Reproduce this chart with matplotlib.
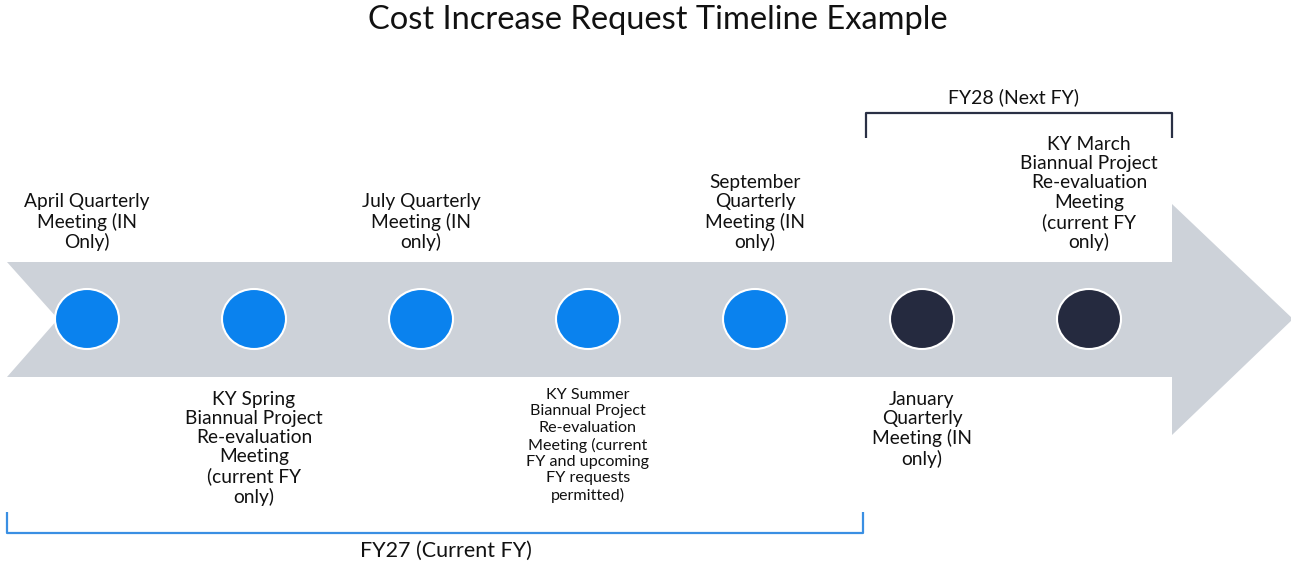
import matplotlib
matplotlib.use("Agg")
import matplotlib.pyplot as plt
from matplotlib.patches import Polygon, Ellipse

plt.rcParams['font.family'] = ['Lato', 'DejaVu Sans']

# ---- data ----
title = "Cost Increase Request Timeline Example"
events = [
    "April Quarterly\nMeeting (IN\nOnly)",
    "KY Spring\nBiannual Project\nRe-evaluation\nMeeting\n(current FY\nonly)",
    "July Quarterly\nMeeting (IN\nonly)",
    "KY Summer\nBiannual Project\nRe-evaluation\nMeeting (current\nFY and upcoming\nFY requests\npermitted)",
    "September\nQuarterly\nMeeting (IN\nonly)",
    "January\nQuarterly\nMeeting (IN\nonly)",
    "KY March\nBiannual Project\nRe-evaluation\nMeeting\n(current FY\nonly)",
]
label_side = ["above", "below", "above", "below", "above", "below", "above"]
fiscal_year = ["FY27", "FY27", "FY27", "FY27", "FY27", "FY28", "FY28"]
fy_labels = {"FY27": "FY27 (Current FY)", "FY28": "FY28 (Next FY)"}

# ---- style ----
W, H = 1291, 565
fig = plt.figure(figsize=(W / 100, H / 100), dpi=100)
ax = fig.add_axes([0, 0, 1, 1])
ax.set_xlim(0, W)
ax.set_ylim(H, 0)
ax.axis('off')

gray = '#CDD2D9'
blue = '#0A82EE'
navy = '#252A3F'
fy27_col = '#3A8FE3'
fy28_col = '#2A3045'
txt = '#111111'

x0, step, yc = 87, 167, 319
xs = [x0 + step * i for i in range(len(events))]

# arrow shape
body_top, body_bot = 262, 377
head_x, head_top, head_bot = 1172, 204, 435
arrow = Polygon([(7, body_top), (head_x, body_top), (head_x, head_top),
                 (1293, yc), (head_x, head_bot), (head_x, body_bot),
                 (7, body_bot), (58, yc)], closed=True, facecolor=gray,
                edgecolor='none', zorder=1)
ax.add_patch(arrow)

for x, fy in zip(xs, fiscal_year):
    c = blue if fy == "FY27" else navy
    ax.add_patch(Ellipse((x, yc), 64, 60, facecolor=c, edgecolor='white',
                         linewidth=1.5, zorder=3))

for x, lab, side in zip(xs, events, label_side):
    small = lab.count("\n") >= 6
    fs = 11.6 if small else 13.8
    ls = 1.22 if small else 1.15
    if side == "above":
        ax.text(x, 251, lab, ha='center', va='bottom', fontsize=fs,
                linespacing=ls, color=txt, zorder=4)
    else:
        ax.text(x, 388 if small else 391, lab, ha='center', va='top', fontsize=fs,
                linespacing=ls, color=txt, zorder=4)

# FY27 bracket
ax.plot([7, 7, 863, 863], [512, 533, 533, 512], color=fy27_col, lw=1.6,
        solid_capstyle='butt', zorder=2)
ax.text(446, 551, fy_labels["FY27"], ha='center', va='center', fontsize=15.5,
        color=txt)

# FY28 bracket
ax.plot([866, 866, 1172, 1172], [138, 113, 113, 138], color=fy28_col, lw=1.6,
        solid_capstyle='butt', zorder=2)
ax.text(1014, 97, fy_labels["FY28"], ha='center', va='center', fontsize=14,
        color=txt)

ax.text(658, 20, title, ha='center', va='center', fontsize=23.5,
        color=txt)

fig.savefig('out.png', dpi=100, facecolor='white')
